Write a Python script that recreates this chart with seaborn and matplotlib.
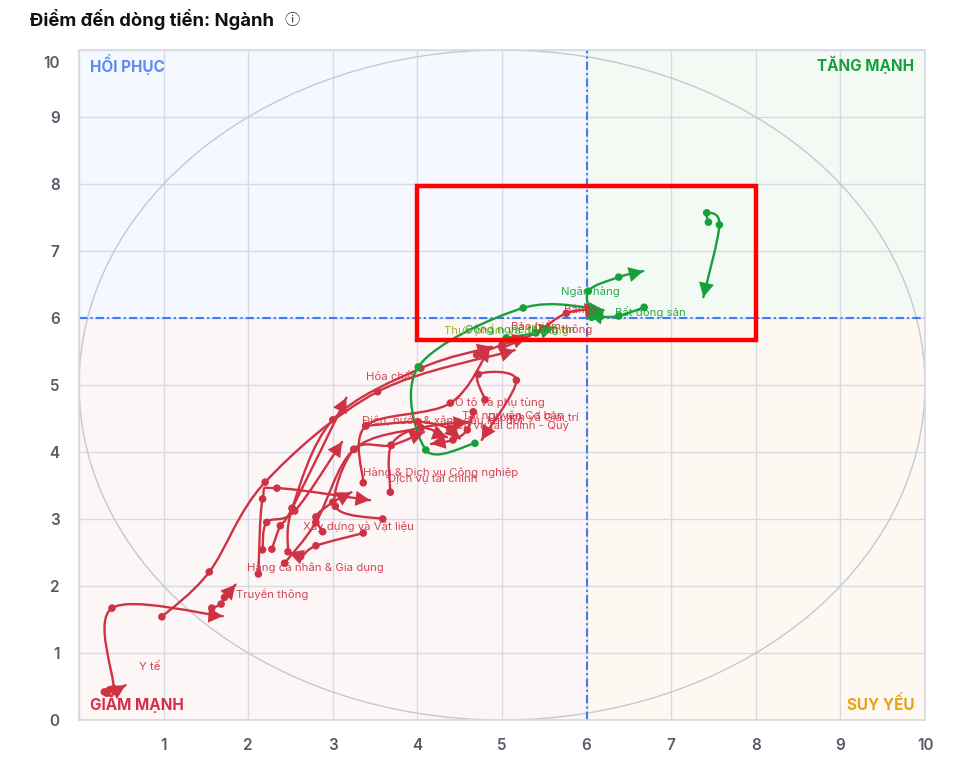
import numpy as np
import pandas as pd
import matplotlib
matplotlib.use('Agg')
import matplotlib.pyplot as plt
import matplotlib.transforms as mtransforms
import seaborn as sns
from matplotlib.path import Path
from matplotlib.patches import PathPatch, Rectangle, Ellipse

RED = '#cf3242'
GREEN = '#17a03a'
OLIVE = '#a3a312'

# trails: tail points (oldest -> newest) and the arrow head
trail_colors = [RED] * 19 + [GREEN] * 5
trail_tails = [
    [(0.33, 0.40), (0.41, 0.47), (0.39, 1.67)],
    [(0.30, 0.42), (0.36, 0.45), (0.43, 0.43)],
    [(1.57, 1.67), (1.68, 1.73), (1.72, 1.83)],
    [(0.98, 1.54), (1.54, 2.21), (2.20, 3.55), (3.53, 4.90)],
    [(2.12, 2.18), (2.17, 3.30), (2.34, 3.46)],
    [(2.28, 2.55), (2.38, 2.90), (2.52, 3.16)],
    [(2.17, 2.54), (2.22, 2.95), (2.55, 3.12)],
    [(2.47, 2.51), (2.52, 3.16), (3.00, 4.48), (4.04, 5.25)],
    [(3.36, 2.79), (2.80, 2.60), (2.62, 2.44)],
    [(2.88, 2.81), (2.80, 3.03), (3.00, 3.25)],
    [(3.59, 3.00), (3.03, 3.19), (3.25, 4.04), (3.69, 4.10)],
    [(2.43, 2.34), (2.80, 2.95), (3.25, 4.04), (4.04, 4.36)],
    [(3.36, 3.54), (3.39, 4.39), (4.39, 4.73)],
    [(3.68, 3.40), (3.69, 4.10), (4.04, 4.36)],
    [(4.80, 4.78), (4.72, 5.16), (5.17, 5.07)],
    [(4.66, 4.60), (4.59, 4.33), (4.42, 4.18)],
    [(3.39, 4.39), (4.01, 4.45), (4.38, 4.35)],
    [(5.00, 5.55), (5.40, 5.78), (5.76, 6.07)],
    [(4.70, 5.45), (5.00, 5.60)],
    [(7.44, 7.43), (7.42, 7.57), (7.57, 7.39)],
    [(6.06, 6.01), (6.02, 6.40), (6.38, 6.61)],
    [(6.68, 6.16), (6.38, 6.03), (6.16, 6.02)],
    [(4.68, 4.13), (4.10, 4.03), (4.01, 5.27), (5.25, 6.15)],
    [(5.05, 5.70), (5.40, 5.78)],
]
trail_heads = [
    (1.70, 1.55), (0.55, 0.52), (1.85, 2.02), (5.15, 5.52), (3.44, 3.28),
    (3.16, 4.81), (3.11, 4.15), (4.88, 5.57), (2.48, 2.50), (3.22, 3.40),
    (4.08, 4.30), (4.60, 4.45), (4.86, 5.57), (4.35, 4.22), (4.76, 4.18),
    (4.16, 4.12), (4.50, 4.20), (6.15, 6.14), (5.30, 5.72),
    (7.38, 6.31), (6.67, 6.70), (6.02, 6.06), (6.20, 6.12), (5.62, 5.86),
]

label_text = ['Ngân hàng', 'Bán lẻ', 'Bất động sản', 'Bảo hiểm', 'Viễn thông',
              'Thực phẩm và đồ uống', 'Công nghệ thông tin', 'Hóa chất',
              'Ô tô và phụ tùng', 'Tài nguyên Cơ bản', 'Điện, nước & xăng dầu khí đốt',
              'Du lịch và Giải trí', 'Dịch vụ tài chính - Quỹ', 'Hàng & Dịch vụ Công nghiệp',
              'Dịch vụ tài chính', 'Xây dựng và Vật liệu', 'Hàng cá nhân & Gia dụng',
              'Truyền thông', 'Y tế']
label_x = [6.04, 5.93, 6.75, 5.40, 5.72, 5.05, 5.21, 3.68, 4.98, 5.13, 4.30,
           5.37, 5.07, 4.28, 4.18, 3.30, 2.79, 2.28, 0.84]
label_y = [6.40, 6.12, 6.09, 5.87, 5.84, 5.82, 5.82, 5.12, 4.75, 4.55, 4.48,
           4.51, 4.39, 3.70, 3.60, 2.88, 2.27, 1.88, 0.79]
label_color = [GREEN, RED, GREEN, RED, RED, OLIVE, GREEN] + [RED] * 12


def smooth_path(pts):
    # Catmull-Rom through the points, drawn as cubic Bezier segments
    pts = np.asarray(pts, dtype=float)
    ext = np.vstack([pts[0], pts, pts[-1]])
    verts = [pts[0]]
    codes = [Path.MOVETO]
    for i in range(1, len(ext) - 2):
        p0, p1, p2, p3 = ext[i - 1], ext[i], ext[i + 1], ext[i + 2]
        verts += [p1 + (p2 - p0) / 6, p2 - (p3 - p1) / 6, p2]
        codes += [Path.CURVE4] * 3
    return Path(verts, codes)


sns.set_theme(style='white')
plt.rcParams['font.family'] = ['Inter', 'DejaVu Sans']

fig = plt.figure(figsize=(9.55, 7.7), dpi=100)
ax = fig.add_axes([79 / 955, 50 / 770, 846 / 955, 670 / 770])
ax.set_xlim(0, 10)
ax.set_ylim(0, 10)

# quadrant backgrounds
ax.add_patch(Rectangle((0, 6), 6, 4, color='#f5f8fe', zorder=0, lw=0))
ax.add_patch(Rectangle((6, 6), 4, 4, color='#f3faf4', zorder=0, lw=0))
ax.add_patch(Rectangle((0, 0), 6, 6, color='#fdf6f7', zorder=0, lw=0))
ax.add_patch(Rectangle((6, 0), 4, 6, color='#fdf9f2', zorder=0, lw=0))

ax.set_xticks(range(0, 11))
ax.set_yticks(range(0, 11))
ax.grid(True, color='#d6dae3', lw=1, zorder=1)
ax.set_axisbelow(True)
for s in ax.spines.values():
    s.set_color('#d6dae3')

ax.add_patch(Ellipse((5, 5), 10, 10, fill=False, ec='#c3c8d4', lw=1, zorder=2))
ax.axvline(6, color='#3f7ef2', lw=1.5, ls=(0, (4, 1.5, 1, 1.5)), zorder=2)
ax.axhline(6, color='#3f7ef2', lw=1.5, ls=(0, (4, 1.5, 1, 1.5)), zorder=2)

# tails
rows = []
for tail, head, col in zip(trail_tails, trail_heads, trail_colors):
    pts = list(tail) + [head]
    ax.add_patch(PathPatch(smooth_path(pts), fill=False, ec=col, lw=1.7, zorder=3,
                           capstyle='round'))
    ax.annotate('', xy=head, xytext=tail[-1],
                arrowprops=dict(arrowstyle='-|>,head_length=0.8,head_width=0.42',
                                color=col, lw=0.01, mutation_scale=13,
                                shrinkA=0, shrinkB=0), zorder=4)
    for x, y in tail:
        rows.append({'x': x, 'y': y, 'c': col})

dots = pd.DataFrame(rows)
sns.scatterplot(data=dots, x='x', y='y', hue='c', palette={RED: RED, GREEN: GREEN},
                s=30, edgecolor='none', legend=False, ax=ax, zorder=5)

for t, x, y, c in zip(label_text, label_x, label_y, label_color):
    ax.text(x, y, t, color=c, fontsize=8.2, ha='center', va='center', zorder=6, alpha=0.9)

# focus box
ax.add_patch(Rectangle((4.0, 5.67), 4.0, 2.30, fill=False, ec='#ff0000', lw=3.2, zorder=7))

# quadrant names
ax.text(0.13, 9.78, 'HỒI PHỤC', color='#5b8cf0', fontsize=11, fontweight='bold', ha='left', va='center')
ax.text(9.87, 9.78, 'TĂNG MẠNH', color='#14a03c', fontsize=11, fontweight='bold', ha='right', va='center')
ax.text(0.13, 0.24, 'GIẢM MẠNH', color='#d42f45', fontsize=11, fontweight='bold', ha='left', va='center')
ax.text(9.87, 0.24, 'SUY YẾU', color='#e9a216', fontsize=11, fontweight='bold', ha='right', va='center')

ax.set_xlabel('')
ax.set_ylabel('')
ax.set_xticklabels([''] + [str(i) for i in range(1, 11)])
ax.set_yticklabels([str(i) for i in range(0, 11)])
ax.tick_params(axis='both', length=0, labelsize=11, labelcolor='#555c68')
ax.tick_params(axis='x', pad=13)
ax.tick_params(axis='y', pad=14)
for lab in ax.get_xticklabels() + ax.get_yticklabels():
    lab.set_fontweight('semibold')
# the top label sits a little inside the plot
top_lab = ax.get_yticklabels()[-1]
top_lab.set_transform(top_lab.get_transform() +
                      mtransforms.ScaledTranslation(0, -0.12, fig.dpi_scale_trans))

fig.text(30 / 955, 1 - 20 / 770, 'Điểm đến dòng tiền: Ngành', fontsize=13.3,
         fontweight='bold', color='#111111', ha='left', va='center')
fig.text(284 / 955, 1 - 20 / 770, 'ⓘ', fontsize=11, color='#333333', ha='left', va='center',
         family=['Noto Sans CJK SC', 'DejaVu Sans'])

fig.savefig('out.png', dpi=100)
